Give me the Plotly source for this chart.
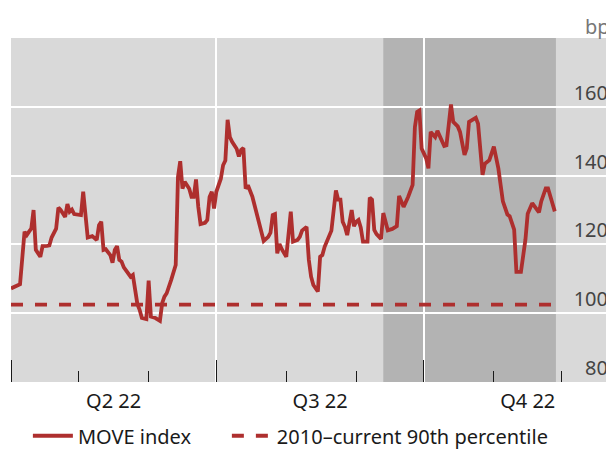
import plotly.graph_objects as go

RED = "#ae2f2e"

# MOVE index
dates = [
    "2022-04-01", "2022-04-03", "2022-04-05", "2022-04-07", "2022-04-08", "2022-04-09",
    "2022-04-10", "2022-04-11", "2022-04-12", "2022-04-14", "2022-04-15", "2022-04-17",
    "2022-04-18", "2022-04-19", "2022-04-20", "2022-04-21", "2022-04-22", "2022-04-23",
    "2022-04-25", "2022-04-26", "2022-04-27", "2022-04-28", "2022-04-29", "2022-05-01",
    "2022-05-02", "2022-05-03", "2022-05-04", "2022-05-05", "2022-05-07", "2022-05-08",
    "2022-05-09", "2022-05-10", "2022-05-11", "2022-05-12", "2022-05-13", "2022-05-15",
    "2022-05-16", "2022-05-17", "2022-05-18", "2022-05-19", "2022-05-20", "2022-05-21",
    "2022-05-23", "2022-05-24", "2022-05-25", "2022-05-27", "2022-05-28", "2022-05-29",
    "2022-05-31", "2022-06-01", "2022-06-02", "2022-06-04", "2022-06-06", "2022-06-07",
    "2022-06-08", "2022-06-09", "2022-06-11", "2022-06-13", "2022-06-14", "2022-06-15",
    "2022-06-16", "2022-06-17", "2022-06-19", "2022-06-20", "2022-06-21", "2022-06-22",
    "2022-06-23", "2022-06-24", "2022-06-26", "2022-06-27", "2022-06-28", "2022-06-29",
    "2022-06-30", "2022-07-01", "2022-07-03", "2022-07-04", "2022-07-05", "2022-07-06",
    "2022-07-07", "2022-07-08", "2022-07-10", "2022-07-11", "2022-07-12", "2022-07-13",
    "2022-07-14", "2022-07-15", "2022-07-17", "2022-07-19", "2022-07-21", "2022-07-22",
    "2022-07-24", "2022-07-25", "2022-07-26", "2022-07-27", "2022-07-28", "2022-07-29",
    "2022-07-30", "2022-08-01", "2022-08-03", "2022-08-04", "2022-08-06", "2022-08-07",
    "2022-08-08", "2022-08-10", "2022-08-11", "2022-08-12", "2022-08-13", "2022-08-15",
    "2022-08-16", "2022-08-17", "2022-08-18", "2022-08-19", "2022-08-20", "2022-08-21",
    "2022-08-23", "2022-08-24", "2022-08-25", "2022-08-26", "2022-08-27", "2022-08-28",
    "2022-08-30", "2022-08-31", "2022-09-01", "2022-09-02", "2022-09-03", "2022-09-04",
    "2022-09-06", "2022-09-07", "2022-09-08", "2022-09-09", "2022-09-10", "2022-09-12",
    "2022-09-13", "2022-09-15", "2022-09-17", "2022-09-19", "2022-09-20", "2022-09-22",
    "2022-09-24", "2022-09-26", "2022-09-27", "2022-09-28", "2022-09-29", "2022-09-30",
    "2022-10-02", "2022-10-03", "2022-10-04", "2022-10-06", "2022-10-07", "2022-10-09",
    "2022-10-10", "2022-10-11", "2022-10-13", "2022-10-14", "2022-10-16", "2022-10-17",
    "2022-10-19", "2022-10-20", "2022-10-21", "2022-10-24", "2022-10-25", "2022-10-27",
    "2022-10-28", "2022-10-30", "2022-11-01", "2022-11-03", "2022-11-04", "2022-11-05",
    "2022-11-07", "2022-11-08", "2022-11-10", "2022-11-11", "2022-11-13", "2022-11-15",
    "2022-11-16", "2022-11-18", "2022-11-21", "2022-11-22", "2022-11-24", "2022-11-25",
    "2022-11-28",
]
move_index = [
    107.2, 107.9, 108.4, 123.7, 122.7, 123.7,
    124.6, 130.0, 118.4, 116.4, 119.5, 119.6,
    119.7, 122.0, 123.2, 124.6, 130.7, 130.0,
    128.0, 131.7, 129.5, 130.1, 128.8, 128.5,
    128.5, 135.3, 129.0, 122.0, 122.4, 121.7,
    121.3, 125.6, 126.6, 118.4, 118.6, 116.9,
    114.7, 118.4, 119.5, 115.5, 115.0, 113.3,
    111.4, 110.6, 111.1, 102.7, 101.0, 98.6,
    98.3, 109.5, 99.0, 98.6, 97.8, 102.9,
    104.8, 105.8, 109.7, 114.0, 139.6, 144.2,
    136.2, 138.2, 136.2, 133.8, 133.8, 138.9,
    130.9, 125.9, 126.3, 127.1, 133.8, 135.3,
    130.4, 135.3, 139.1, 143.0, 144.4, 156.2,
    151.2, 149.8, 147.8, 145.6, 147.5, 148.0,
    136.2, 137.2, 133.8, 128.5, 123.7, 121.0,
    122.2, 123.4, 128.5, 128.8, 117.4, 120.1,
    118.6, 116.4, 129.5, 120.8, 121.3, 122.2,
    124.0, 125.1, 115.5, 110.6, 108.2, 106.3,
    116.4, 116.9, 119.3, 120.8, 122.2, 124.0,
    135.7, 133.0, 133.0, 126.6, 125.1, 122.7,
    130.0, 125.3, 126.6, 127.1, 124.9, 120.8,
    120.8, 133.6, 133.0, 124.2, 123.0, 121.6,
    129.1, 124.1, 124.5, 125.3, 134.1, 130.9,
    133.8, 137.3, 154.1, 158.5, 158.9, 147.9,
    145.0, 142.1, 152.7, 151.2, 153.0, 150.3,
    148.6, 148.8, 160.7, 155.6, 154.3, 152.7,
    146.0, 147.9, 155.6, 156.8, 155.1, 140.2,
    143.4, 144.5, 148.4, 142.1, 136.8, 132.5,
    128.7, 128.2, 124.3, 112.0, 112.0, 121.4,
    128.9, 132.0, 129.3, 132.5, 136.3, 136.3,
    129.6,
]

pct90_value = 102.5
pct90_dates = [dates[0], dates[-1]]

shade_start = "2022-09-13"
shade_end = "2022-11-28 12:00"

x_range = ["2022-04-01", "2022-12-24 06:00"]
y_range = [80, 180]

FONT = "Noto Sans"
FONT_SIZE = 20

fig = go.Figure()

fig.add_shape(
    type="rect", xref="x", yref="paper",
    x0=shade_start, x1=shade_end, y0=0, y1=1,
    fillcolor="#b3b3b3", line_width=0, layer="below",
)

fig.add_trace(
    go.Scatter(
        x=dates,
        y=move_index,
        mode="lines",
        name="MOVE index",
        line=dict(color=RED, width=3.8),
        legend="legend",
    )
)
fig.add_trace(
    go.Scatter(
        x=pct90_dates,
        y=[pct90_value, pct90_value],
        mode="lines",
        name="2010–current 90th percentile",
        line=dict(color=RED, width=3.8, dash="12px,12px"),
        legend="legend2",
    )
)

legend_style = dict(
    orientation="h",
    yref="container",
    y=0.03, yanchor="middle",
    xanchor="left",
    itemwidth=40,
    bgcolor="rgba(0,0,0,0)",
    font=dict(family=FONT, size=FONT_SIZE, color="#1a1a1a"),
)

# page body adds an 8px margin, so the figure is sized to fit the window
fig.update_layout(
    width=606,
    height=441,
    margin=dict(l=3, r=0, t=30, b=67),
    paper_bgcolor="white",
    plot_bgcolor="#d9d9d9",
    font=dict(family=FONT, size=FONT_SIZE, color="#1a1a1a"),
    showlegend=True,
    legend=dict(legend_style, x=0.028),
    legend2=dict(legend_style, x=0.358),
    annotations=[
        dict(
            text="bp", xref="paper", yref="paper",
            x=0.997, y=1.032, xanchor="right", yanchor="middle",
            showarrow=False, font=dict(size=FONT_SIZE, color="#777777"),
        )
    ],
)

fig.update_xaxes(
    type="date",
    range=x_range,
    tick0="2022-01-01",
    dtick="M3",
    tickformat="Q%q %y",
    ticklabelmode="period",
    ticklabelstandoff=5,
    ticks="inside",
    ticklen=22,
    tickwidth=1,
    tickcolor="#1a1a1a",
    showgrid=True,
    gridcolor="white",
    gridwidth=1.5,
    showline=False,
    zeroline=False,
    automargin=False,
    minor=dict(dtick="M1", ticks="inside", ticklen=11, tickwidth=1,
               tickcolor="#1a1a1a", showgrid=False),
)

fig.update_yaxes(
    range=y_range,
    dtick=20,
    side="right",
    ticklabelposition="inside top",
    ticklabelstandoff=3,
    ticks="",
    showgrid=True,
    gridcolor="white",
    gridwidth=1.5,
    zeroline=False,
    showline=False,
    automargin=False,
)

fig.write_html("out.html")
